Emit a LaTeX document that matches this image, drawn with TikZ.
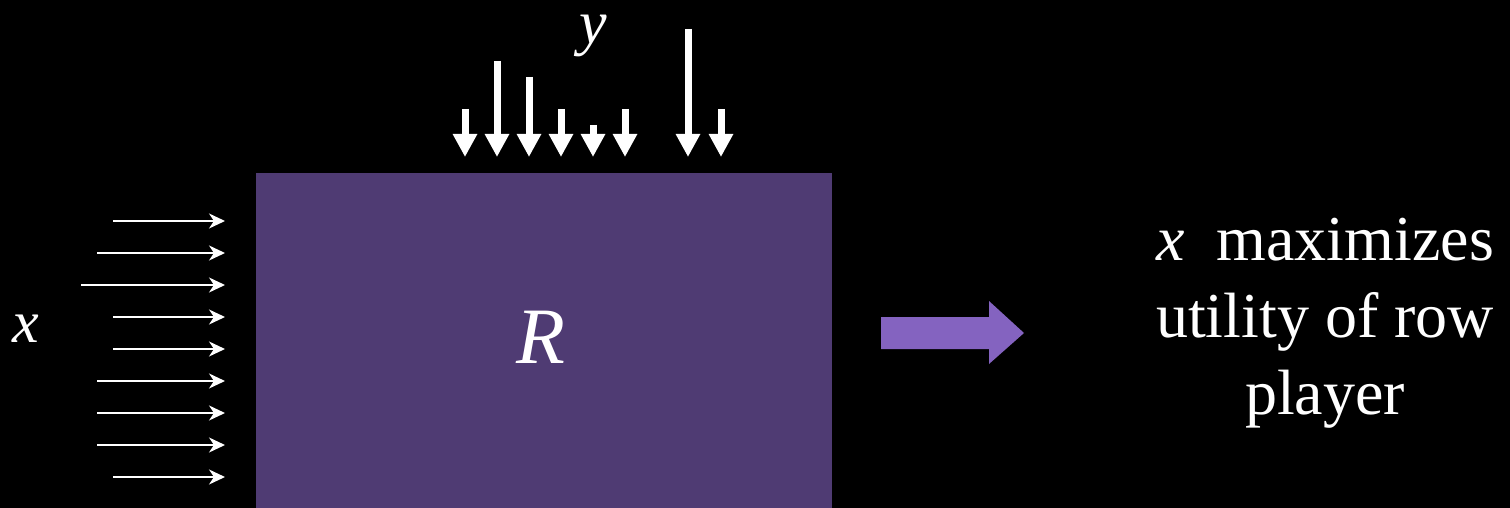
\documentclass[tikz,border=0pt]{standalone}
\usepackage{fontspec}
\setmainfont{Liberation Serif}
\usetikzlibrary{arrows.meta}
\definecolor{boxpurple}{RGB}{79,59,115}
\definecolor{arrowpurple}{RGB}{132,99,192}
\tikzset{
  downarrow/.style={white, line width=7pt, -{Triangle[width=23pt,length=23pt]}},
  rightarrow/.style={white, line width=2pt, -{Stealth[length=16pt,width=15pt,inset=5pt]}},
  bigtext/.style={text=white, font=\fontsize{64}{77}\selectfont, inner sep=0pt},
}
\begin{document}
\begin{tikzpicture}[x=1pt,y=-1pt]
\fill[black] (0,0) rectangle (1510,508);
\useasboundingbox (0,0) rectangle (1510,508);
% main box
\node[fill=boxpurple, minimum width=576pt, minimum height=335pt, anchor=north west, inner sep=0pt, draw=none] (box) at (256,173) {};
\node[bigtext, anchor=base, font=\fontsize{80}{90}\selectfont] (R) at (541,363) {\textit{R}};
% y label and arrows
\node[bigtext, anchor=base, font=\fontsize{62}{70}\selectfont] (ylab) at (593,44) {\textit{y}};
\foreach \xx/\yy in {465/109, 497/61, 529/77, 561/109, 593/125, 625/109, 688/29, 721/109}{
  \draw[downarrow] (\xx,\yy) -- (\xx,157);
}
% x label and arrows
\node[bigtext, anchor=base, font=\fontsize{60}{70}\selectfont] (xlab) at (26,342) {\textit{x}};
\foreach \xs/\yy in {113/221, 97/253, 81/285, 113/317, 113/349, 97/381, 97/413, 97/445, 113/477}{
  \draw[rightarrow] (\xs,\yy) -- (225,\yy);
}
% big arrow
\fill[arrowpurple] (881,317) -- (989,317) -- (989,301) -- (1024,333) -- (989,364) -- (989,349) -- (881,349) -- cycle;
% result text
\node[bigtext, align=center, anchor=base] (res) at (1325,414) {\textit{x}\ \ maximizes\\utility of row\\player};
\end{tikzpicture}
\end{document}
